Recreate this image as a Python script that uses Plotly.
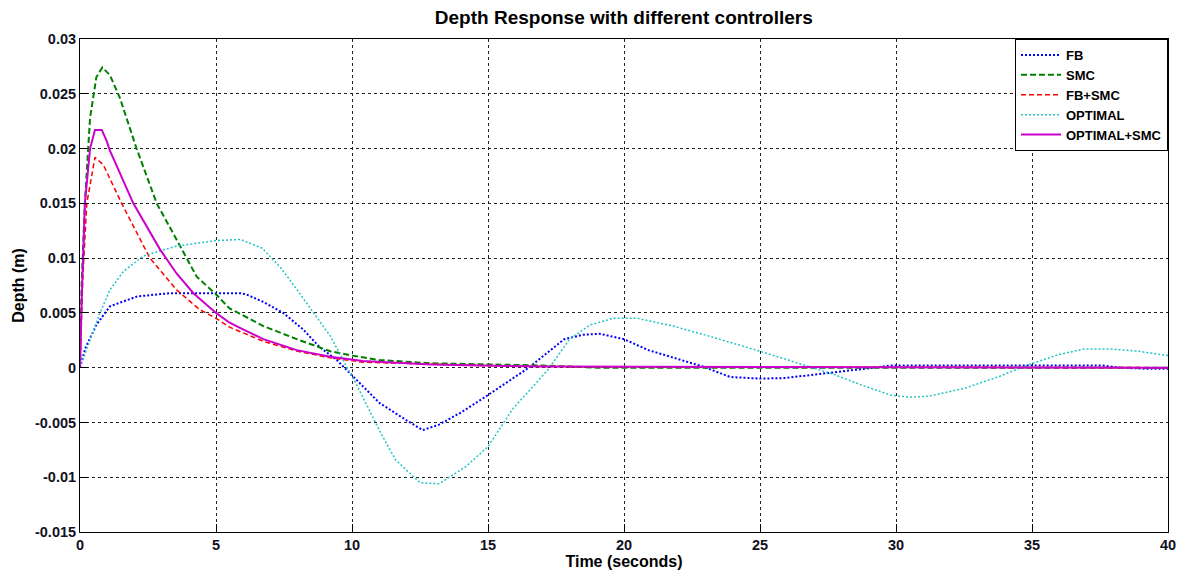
import plotly.graph_objects as go

# ---------------- data ----------------
fb_t = [0, 0.2, 0.6, 1.1, 2.1, 3.3, 4.8, 5.5, 5.9, 6.1, 6.74, 7.47, 8.2, 8.8, 9.44, 9.8, 11.0, 12.0,
        12.6, 13.2, 14.0, 15.0, 16.5, 17.8, 18.5, 19.1, 20.0, 20.9, 21.8, 22.9, 23.9, 25.0, 25.9,
        27.2, 28.5, 29.8, 31, 33, 35, 37.6, 38.2, 39.2, 40]
fb_v = [0, 0.0018, 0.0039, 0.0056, 0.0065, 0.0068, 0.0068, 0.0068, 0.0068, 0.0067, 0.006, 0.005,
        0.0035, 0.0019, 0.0007, -0.0002, -0.0032, -0.0048, -0.0057, -0.0052, -0.0041, -0.0025, 0,
        0.0026, 0.003, 0.0031, 0.0026, 0.0016, 0.0009, 0.0001, -0.00085, -0.001, -0.00095, -0.0006,
        -0.0002, 0.0002, 0.0002, 0.0002, 0.0002, 0.0002, 0.0, -0.0001, -0.0001]

smc_t = [0, 0.06, 0.18, 0.37, 0.6, 0.82, 1.1, 1.47, 2.08, 2.82, 3.68, 4.29, 5.0, 5.5, 5.82, 6.74,
         7.97, 9.2, 10, 11, 12.9, 14.7, 17, 19, 40]
smc_v = [0, 0.0076, 0.0151, 0.0228, 0.0265, 0.0274, 0.0267, 0.0246, 0.0200, 0.015, 0.0111, 0.0083,
         0.0067, 0.0054, 0.005, 0.0038, 0.0026, 0.0015, 0.0011, 0.0007, 0.0004, 0.0003, 0.0002,
         0.0, 0.0]

fbsmc_t = [0, 0.1, 0.25, 0.55, 0.86, 1.1, 1.53, 2.57, 3.55, 4.4, 5.0, 5.5, 6.74, 8.0, 9.2, 10.4,
           12.9, 14.7, 17, 40]
fbsmc_v = [0, 0.008, 0.015, 0.0192, 0.0185, 0.0172, 0.015, 0.01, 0.0071, 0.0053, 0.0045, 0.0037,
           0.0024, 0.0015, 0.0009, 0.0005, 0.0003, 0.0002, 0.0001, 0]

opt_t = [0, 0.37, 0.7, 1.1, 1.6, 2.33, 3.55, 5.0, 5.9, 6.7, 7.35, 7.72, 8.58, 9.2, 9.8, 10.2, 11.0,
         11.6, 12.5, 13.2, 14.2, 15.0, 15.9, 17.2, 18.0, 18.75, 19.6, 20.5, 21.8, 23.1, 25.0, 26.5,
         27.7, 28.75, 29.8, 30.5, 31.2, 32.5, 33.8, 34.9, 36.0, 36.9, 37.9, 38.9, 40]
opt_v = [0, 0.0026, 0.0048, 0.0071, 0.0088, 0.0102, 0.0111, 0.0116, 0.0117, 0.0109, 0.0092, 0.008,
         0.005, 0.0029, 0.0001, -0.0017, -0.0057, -0.0084, -0.0105, -0.0106, -0.009, -0.0072,
         -0.0038, -0.0002, 0.0026, 0.0039, 0.0045, 0.0045, 0.0038, 0.0029, 0.0015, 0.0003, -0.0006,
         -0.0016, -0.0025, -0.0027, -0.0026, -0.0019, -0.0008, 0.0003, 0.0012, 0.0017, 0.0017,
         0.0015, 0.0011]

optsmc_t = [0, 0.06, 0.18, 0.37, 0.55, 0.8, 0.98, 1.1, 1.96, 2.94, 3.55, 4.17, 5.0, 5.5, 5.9, 6.74,
            7.97, 9.2, 10.4, 12.9, 14.7, 17, 40]
optsmc_v = [0, 0.006, 0.015, 0.020, 0.0217, 0.0217, 0.0207, 0.0198, 0.015, 0.0108, 0.0086, 0.0068,
            0.005, 0.0041, 0.0036, 0.0026, 0.0016, 0.001, 0.0006, 0.0003, 0.0002, 0.0001, 0]

y_ticks = [0.03, 0.025, 0.02, 0.015, 0.01, 0.005, 0, -0.005, -0.01, -0.015]
y_labels = ["0.03", "0.025", "0.02", "0.015", "0.01", "0.005", "0", "-0.005", "-0.01", "-0.015"]
x_ticks = [0, 5, 10, 15, 20, 25, 30, 35, 40]
x_labels = ["0", "5", "10", "15", "20", "25", "30", "35", "40"]

FONT = "Liberation Sans, Arial, sans-serif"

fig = go.Figure()
fig.add_trace(go.Scatter(x=fb_t, y=fb_v, mode="lines", name="FB",
                         line=dict(color="#0000FF", width=2, dash="2px,2px")))
fig.add_trace(go.Scatter(x=smc_t, y=smc_v, mode="lines", name="SMC",
                         line=dict(color="#008000", width=2, dash="6px,3px")))
fig.add_trace(go.Scatter(x=fbsmc_t, y=fbsmc_v, mode="lines", name="FB+SMC",
                         line=dict(color="#FF0000", width=1.5, dash="5px,3px")))
fig.add_trace(go.Scatter(x=opt_t, y=opt_v, mode="lines", name="OPTIMAL",
                         line=dict(color="#22C4C4", width=1.5, dash="2px,2px")))
fig.add_trace(go.Scatter(x=optsmc_t, y=optsmc_v, mode="lines", name="OPTIMAL+SMC",
                         line=dict(color="#CC00CC", width=2)))

axis_common = dict(
    showline=True, linecolor="black", linewidth=1, mirror=True,
    ticks="inside", ticklen=8, tickcolor="black",
    showgrid=True, gridcolor="#222222", gridwidth=1, griddash="3px,3px",
    zeroline=False, automargin=False,
    tickfont=dict(family=FONT, size=14.5, color="#111122", weight="bold"),
)

fig.update_layout(
    width=1177, height=576,
    margin=dict(l=80, r=9, t=39, b=44),
    paper_bgcolor="white", plot_bgcolor="white",
    title=dict(text="Depth Response with different controllers", x=0.53, xanchor="center",
               y=1 - 17 / 576, yanchor="middle",
               font=dict(family=FONT, size=19, color="black", weight="bold")),
    xaxis=dict(range=[0, 40], tickvals=x_ticks, ticktext=x_labels,
               title=dict(text="Time (seconds)", standoff=2,
                          font=dict(family=FONT, size=16, color="black", weight="bold")),
               **axis_common),
    yaxis=dict(range=[-0.015, 0.03], tickvals=y_ticks, ticktext=y_labels,
               title=dict(text="Depth (m)", standoff=6,
                          font=dict(family=FONT, size=16, color="black", weight="bold")),
               **axis_common),
    legend=dict(x=1, xanchor="right", y=1, yanchor="top",
                bgcolor="white", bordercolor="black", borderwidth=1,
                font=dict(family=FONT, size=13, color="black", weight="bold"),
                tracegroupgap=0, itemwidth=40),
    showlegend=True,
)

fig.write_html("out.html")
